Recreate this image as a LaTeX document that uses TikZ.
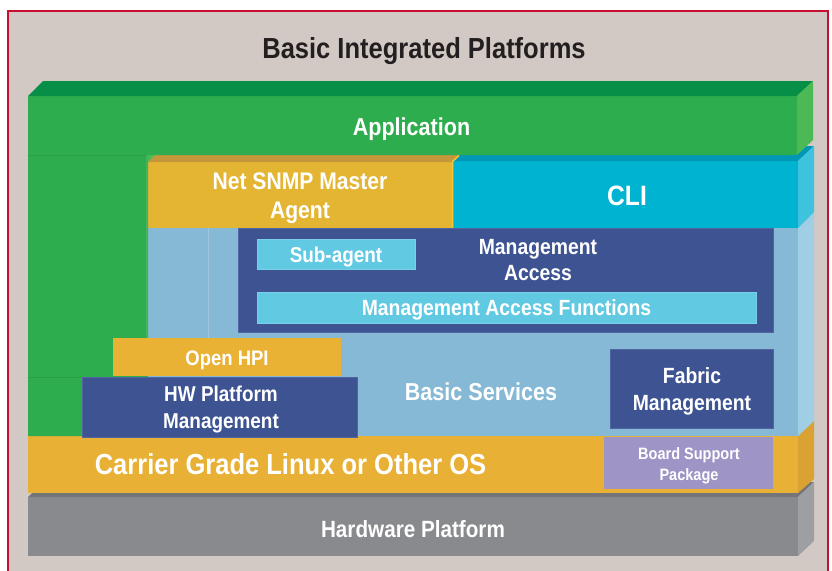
\documentclass[tikz,border=0pt]{standalone}
\usepackage{fontspec}
\newfontfamily\labelfont{Liberation Sans}[FakeStretch=0.88]

% palette
\definecolor{bg}{HTML}{D3C9C4}
\definecolor{frame}{HTML}{C8102E}
\definecolor{ink}{HTML}{231F20}
\definecolor{apF}{HTML}{2EAD4E}
\definecolor{apT}{HTML}{078F47}
\definecolor{apR}{HTML}{4DB954}
\definecolor{apEdge}{HTML}{28A048}
\definecolor{apLite}{HTML}{45B35A}
\definecolor{snF}{HTML}{E4B533}
\definecolor{snT}{HTML}{C4973A}
\definecolor{snEdge}{HTML}{F4C535}
\definecolor{cliF}{HTML}{00B4D1}
\definecolor{cliT}{HTML}{0098B6}
\definecolor{cliR}{HTML}{3EC3DE}
\definecolor{bsF}{HTML}{86B9D6}
\definecolor{bsR}{HTML}{A0CEE4}
\definecolor{bsLine}{HTML}{9CC7DF}
\definecolor{dkblue}{HTML}{3E5392}
\definecolor{dkEdge}{HTML}{5065A2}
\definecolor{ltcyan}{HTML}{62C9E3}
\definecolor{hpi}{HTML}{E9B234}
\definecolor{cgF}{HTML}{E8B034}
\definecolor{cgR}{HTML}{D9A233}
\definecolor{bsp}{HTML}{9E94C6}
\definecolor{grayF}{HTML}{898A8D}
\definecolor{grayT}{HTML}{747578}
\definecolor{grayR}{HTML}{9E9FA2}

\tikzset{
  lbl/.style={text=white, anchor=base, inner sep=0pt,
    font=\labelfont\bfseries\fontsize{#1}{#1}\selectfont},
  innerbox/.style={fill=dkblue, draw=dkEdge, line width=0.8pt},
  cyanbar/.style={fill=ltcyan, draw=ltcyan!85!white, line width=0.6pt},
}

\begin{document}
\begin{tikzpicture}[x=1pt, y=-1pt]
\useasboundingbox (0,0) rectangle (832,570);
\fill[white] (0,0) rectangle (832,570);
\filldraw[fill=bg, draw=frame, line width=2pt] (8,11) rectangle (828,590);

% title
\node[lbl=29, text=ink] (title) at (424,58) {Basic Integrated Platforms};

% hardware slab
\fill[grayF] (28,497) rectangle (798,556);
\fill[grayT] (28,497) -- (44,482) -- (814,482) -- (798,497) -- cycle;
\fill[grayR] (798,497) -- (814,482) -- (814,541) -- (798,556) -- cycle;

% operating system slab
\fill[cgF] (28,435) rectangle (798,493);
\fill[cgR] (798,435) -- (814,420) -- (814,479) -- (798,493) -- cycle;

% basic services slab
\fill[bsF] (148,228) rectangle (798,436);
\fill[bsR] (798,436) -- (814,421) -- (814,212) -- (798,228) -- cycle;
\draw[bsLine, line width=0.8pt] (208,228) -- (208,338);

% net snmp master agent slab
\fill[snF] (148,162) rectangle (453,228);
\fill[snT] (148,162) -- (163,147) -- (469,147) -- (453,162) -- cycle;

% cli slab
\fill[cliF] (453,161) rectangle (798,228);
\fill[cliT] (453,161) -- (469,146) -- (814,146) -- (798,161) -- cycle;
\fill[cliR] (798,161) -- (814,146) -- (814,212) -- (798,228) -- cycle;
\draw[snEdge, line width=1.5pt] (452.5,228) -- (452.5,161.5) -- (459,155.5);

% application slab with its left column
\fill[apF] (28,96) -- (797,96) -- (797,155) -- (148,155) -- (148,436) -- (28,436) -- cycle;
\fill[apT] (28,96) -- (43,81) -- (813,81) -- (797,96) -- cycle;
\fill[apR] (797,96) -- (813,81) -- (813,140) -- (797,155) -- cycle;
\fill[apR] (148,155) -- (148,162) -- (155,155) -- cycle;
\draw[apEdge, line width=1pt] (28,155) -- (148,155);
\draw[apEdge, line width=1pt] (28,377) -- (82,377);
\draw[apLite, line width=2pt] (146.5,155) -- (146.5,338);

% management access block
\filldraw[innerbox] (238,228) rectangle (773,332);
\filldraw[cyanbar] (257,239) rectangle (415,269);
\filldraw[cyanbar] (257,292) rectangle (756,323);

% hardware platform interface blocks
\fill[hpi] (113,338) rectangle (341,376);
\filldraw[innerbox] (82,377) rectangle (357,437);
\filldraw[innerbox] (610,349) rectangle (773,428);
\fill[bsp] (604,437) rectangle (773,489);

% labels
\node[lbl=24.5] (app) at (411.5,135) {Application};
\node[lbl=24] (snmpA) at (300,189) {Net SNMP Master};
\node[lbl=24] (snmpB) at (300,218) {Agent};
\node[lbl=28] (cli) at (627,205) {CLI};
\node[lbl=21.5] (sub) at (336,262) {Sub-agent};
\node[lbl=22] (maA) at (538,254) {Management};
\node[lbl=22] (maB) at (538,280) {Access};
\node[lbl=22] (maf) at (506.5,315) {Management Access Functions};
\node[lbl=21] (hpiL) at (227,365) {Open HPI};
\node[lbl=21.5] (hwA) at (221,401) {HW Platform};
\node[lbl=21.5] (hwB) at (221,428) {Management};
\node[lbl=24.5] (bs) at (481,400) {Basic Services};
\node[lbl=22] (fabA) at (692,383) {Fabric};
\node[lbl=22] (fabB) at (692,410) {Management};
\node[lbl=29] (os) at (290.5,474) {Carrier Grade Linux or Other OS};
\node[lbl=16.5] (bspA) at (689,459) {Board Support};
\node[lbl=16.5] (bspB) at (689,480) {Package};
\node[lbl=23.5] (hw) at (413,537) {Hardware Platform};
\end{tikzpicture}
\end{document}
